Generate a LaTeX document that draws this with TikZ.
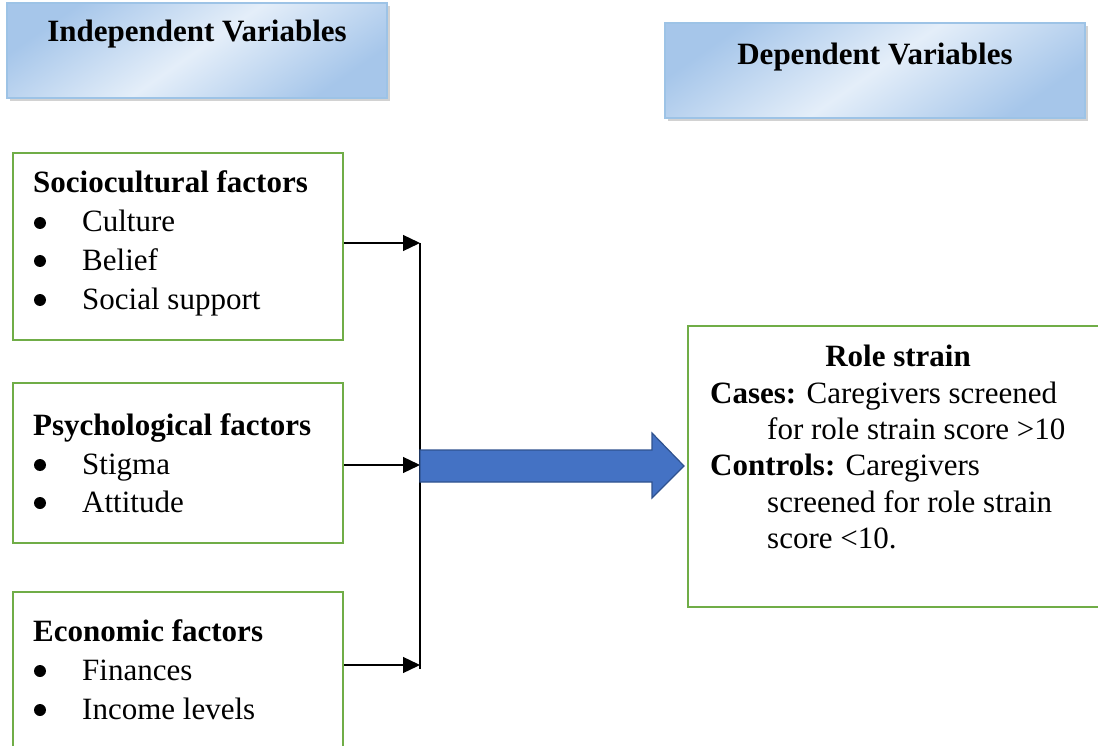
\documentclass[tikz,border=0pt]{standalone}
\usepackage{fontspec}
\setmainfont{Liberation Serif}
\usetikzlibrary{arrows.meta,shadows,calc}

\definecolor{boxgreen}{HTML}{70AD47}
\definecolor{hdedge}{HTML}{9DC3E6}
\definecolor{hdlight}{HTML}{E4EEF9}
\definecolor{hddark}{HTML}{A6C6EA}
\definecolor{arrblue}{HTML}{4472C4}
\definecolor{arredge}{HTML}{2F528F}

\newcommand{\txtsize}{\fontsize{31}{38}\selectfont}

\tikzset{
  headbox/.style={draw=hdedge, line width=1.5pt, top color=hddark, bottom color=hddark,
    middle color=hdlight, shading angle=35,
    drop shadow={shadow xshift=3pt, shadow yshift=-3pt, fill=black!35}},
  factorbox/.style={draw=boxgreen, line width=2.2pt, minimum width=330pt},
  txt/.style={anchor=base west, inner sep=0pt, font=\txtsize},
  bullet/.style={circle, fill=black, inner sep=0pt, minimum size=12pt},
  feed/.style={line width=1.3pt, -{Triangle[length=17pt,width=16pt]}},
  bigarrow/.style={fill=arrblue, draw=arredge, line width=1.2pt, line join=miter}
}

\begin{document}
\begin{tikzpicture}[x=1pt, y=-1pt]

      \useasboundingbox (0,0) rectangle (1098,746);
      \clip (0,0) rectangle (1098,746);

      % headers
      \node[headbox, minimum width=380pt, minimum height=95pt] (indep) at (197,50.5) {};
      \node[anchor=base, font=\txtsize\bfseries] (indeptxt) at (197,42) {Independent Variables};
      \node[headbox, minimum width=420pt, minimum height=95pt] (dep) at (875,70.5) {};
      \node[anchor=base, font=\txtsize\bfseries] (deptxt) at (875,65) {Dependent Variables};

      % factor boxes
      \node[factorbox, minimum height=187pt] (socio) at (178,246.5) {};
      \node[txt] (sociot) at (33,193) {\bfseries Sociocultural factors};
      \node[bullet] (sb1) at (40,223) {};
      \node[txt] (si1) at (82,232) {Culture};
      \node[bullet] (sb2) at (40,261) {};
      \node[txt] (si2) at (82,270) {Belief};
      \node[bullet] (sb3) at (40,300) {};
      \node[txt] (si3) at (82,309) {Social support};

      \node[factorbox, minimum height=160pt] (psych) at (178,463) {};
      \node[txt] (psycht) at (33,435) {\bfseries Psychological factors};
      \node[bullet] (pb1) at (40,465) {};
      \node[txt] (pi1) at (82,474) {Stigma};
      \node[bullet] (pb2) at (40,503) {};
      \node[txt] (pi2) at (82,512) {Attitude};

      \node[factorbox, minimum height=168pt] (econ) at (178,676) {};
      \node[txt] (econt) at (33,641) {\bfseries Economic factors};
      \node[bullet] (eb1) at (40,671) {};
      \node[txt] (ei1) at (82,680) {Finances};
      \node[bullet] (eb2) at (40,710) {};
      \node[txt] (ei2) at (82,719) {Income levels};

      % outcome box
      \node[factorbox, minimum width=422pt, minimum height=281pt] (role) at (899,466.5) {};
      \node[anchor=base, inner sep=0pt, font=\txtsize\bfseries] (rolet) at (898,366) {Role strain};
      \node[txt] (r1) at (710,403) {\textbf{Cases:} Caregivers screened};
      \node[txt] (r2) at (767,439) {for role strain score >10};
      \node[txt] (r3) at (710,475) {\textbf{Controls:} Caregivers};
      \node[txt] (r4) at (767,512) {screened for role strain};
      \node[txt] (r5) at (767,548) {score <10.};

      % junction
      \coordinate (jtop) at (420,243);
      \coordinate (jmid) at (420,465);
      \coordinate (jbot) at (420,665);
      \draw[line width=1.3pt] (jtop) -- ($(jbot)+(0,4)$);
      \draw[feed] (socio.east |- jtop) -- (jtop);
      \draw[feed] (psych.east |- jmid) -- (jmid);
      \draw[feed] (econ.east |- jbot) -- (jbot);

      \draw[bigarrow] (420,450) -- (652,450) -- (652,433) -- (684,466) -- (652,498)
        -- (652,482) -- (420,482) -- cycle;
\end{tikzpicture}
\end{document}
